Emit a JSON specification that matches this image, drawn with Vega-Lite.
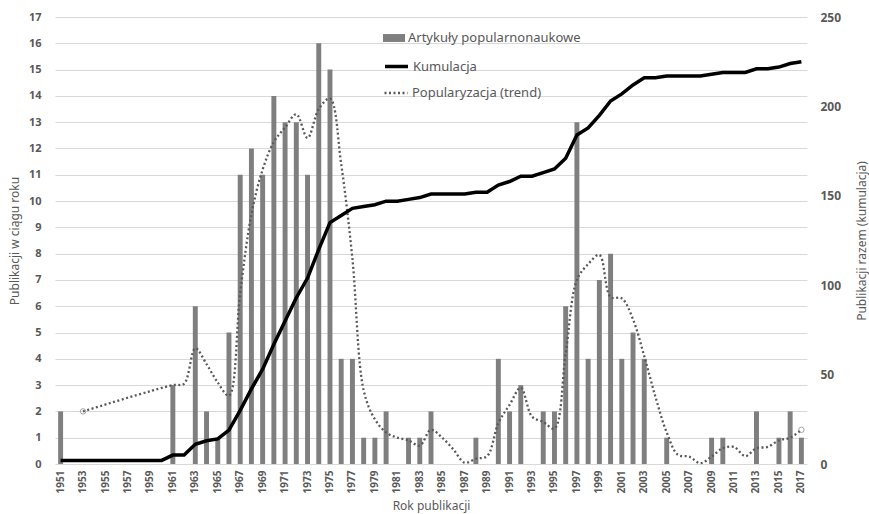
{
  "$schema": "https://vega.github.io/schema/vega-lite/v6.json",
  "width": 752,
  "height": 447,
  "autosize": {"type": "none"},
  "padding": {"left": 55, "top": 17, "right": 62, "bottom": 50},
  "background": "white",
  "config": {
    "view": {"stroke": null},
    "font": "Noto Sans",
    "axis": {"labelColor": "#595959", "titleColor": "#595959", "titleFontWeight": "normal", "domain": false, "ticks": false}
  },
  "data": {"values": [
    {"year": 1951, "count": 2, "cum": 2, "trend": null},
    {"year": 1952, "count": 0, "cum": 2, "trend": null},
    {"year": 1953, "count": 0, "cum": 2, "trend": 2.0},
    {"year": 1954, "count": 0, "cum": 2, "trend": null},
    {"year": 1955, "count": 0, "cum": 2, "trend": null},
    {"year": 1956, "count": 0, "cum": 2, "trend": null},
    {"year": 1957, "count": 0, "cum": 2, "trend": null},
    {"year": 1958, "count": 0, "cum": 2, "trend": null},
    {"year": 1959, "count": 0, "cum": 2, "trend": null},
    {"year": 1960, "count": 0, "cum": 2, "trend": null},
    {"year": 1961, "count": 3, "cum": 5, "trend": 3.0},
    {"year": 1962, "count": 0, "cum": 5, "trend": 3.05},
    {"year": 1963, "count": 6, "cum": 11, "trend": 4.4},
    {"year": 1964, "count": 2, "cum": 13, "trend": 3.8},
    {"year": 1965, "count": 1, "cum": 14, "trend": 3.1},
    {"year": 1966, "count": 5, "cum": 19, "trend": 2.6},
    {"year": 1967, "count": 11, "cum": 30, "trend": 6.5},
    {"year": 1968, "count": 12, "cum": 42, "trend": 9.5},
    {"year": 1969, "count": 11, "cum": 53, "trend": 11.2},
    {"year": 1970, "count": 14, "cum": 67, "trend": 12.25},
    {"year": 1971, "count": 13, "cum": 80, "trend": 12.8},
    {"year": 1972, "count": 13, "cum": 93, "trend": 13.3},
    {"year": 1973, "count": 11, "cum": 104, "trend": 12.4},
    {"year": 1974, "count": 16, "cum": 120, "trend": 13.5},
    {"year": 1975, "count": 15, "cum": 135, "trend": 13.9},
    {"year": 1976, "count": 4, "cum": 139, "trend": 11.4},
    {"year": 1977, "count": 4, "cum": 143, "trend": 7.8},
    {"year": 1978, "count": 1, "cum": 144, "trend": 2.8},
    {"year": 1979, "count": 1, "cum": 145, "trend": 1.7},
    {"year": 1980, "count": 2, "cum": 147, "trend": 1.2},
    {"year": 1981, "count": 0, "cum": 147, "trend": 1.0},
    {"year": 1982, "count": 1, "cum": 148, "trend": 0.9},
    {"year": 1983, "count": 1, "cum": 149, "trend": 0.7},
    {"year": 1984, "count": 2, "cum": 151, "trend": 1.3},
    {"year": 1985, "count": 0, "cum": 151, "trend": 1.0},
    {"year": 1986, "count": 0, "cum": 151, "trend": 0.55},
    {"year": 1987, "count": 0, "cum": 151, "trend": 0.05},
    {"year": 1988, "count": 1, "cum": 152, "trend": 0.2},
    {"year": 1989, "count": 0, "cum": 152, "trend": 0.3},
    {"year": 1990, "count": 4, "cum": 156, "trend": 1.55},
    {"year": 1991, "count": 2, "cum": 158, "trend": 2.25},
    {"year": 1992, "count": 3, "cum": 161, "trend": 2.9},
    {"year": 1993, "count": 0, "cum": 161, "trend": 1.8},
    {"year": 1994, "count": 2, "cum": 163, "trend": 1.6},
    {"year": 1995, "count": 2, "cum": 165, "trend": 1.35},
    {"year": 1996, "count": 6, "cum": 171, "trend": 4.2},
    {"year": 1997, "count": 13, "cum": 184, "trend": 7.0},
    {"year": 1998, "count": 4, "cum": 188, "trend": 7.6},
    {"year": 1999, "count": 7, "cum": 195, "trend": 7.95},
    {"year": 2000, "count": 8, "cum": 203, "trend": 6.35},
    {"year": 2001, "count": 4, "cum": 207, "trend": 6.3},
    {"year": 2002, "count": 5, "cum": 212, "trend": 5.5},
    {"year": 2003, "count": 4, "cum": 216, "trend": 4.1},
    {"year": 2004, "count": 0, "cum": 216, "trend": 2.55},
    {"year": 2005, "count": 1, "cum": 217, "trend": 1.2},
    {"year": 2006, "count": 0, "cum": 217, "trend": 0.35},
    {"year": 2007, "count": 0, "cum": 217, "trend": 0.28},
    {"year": 2008, "count": 0, "cum": 217, "trend": 0.03},
    {"year": 2009, "count": 1, "cum": 218, "trend": 0.28},
    {"year": 2010, "count": 1, "cum": 219, "trend": 0.6},
    {"year": 2011, "count": 0, "cum": 219, "trend": 0.65},
    {"year": 2012, "count": 0, "cum": 219, "trend": 0.3},
    {"year": 2013, "count": 2, "cum": 221, "trend": 0.6},
    {"year": 2014, "count": 0, "cum": 221, "trend": 0.65},
    {"year": 2015, "count": 1, "cum": 222, "trend": 0.9},
    {"year": 2016, "count": 2, "cum": 224, "trend": 1.0},
    {"year": 2017, "count": 1, "cum": 225, "trend": 1.3}
  ]},
  "encoding": {
    "x": {
      "field": "year", "type": "ordinal",
      "scale": {"paddingInner": 0.56, "paddingOuter": 0.28},
      "axis": {
        "title": "Rok publikacji", "titleFontSize": 12, "titlePadding": 8,
        "labelAngle": -90, "labelFontSize": 10, "labelFontWeight": "bold", "labelPadding": 6,
        "labelOverlap": false,
        "labelExpr": "datum.value % 2 == 1 ? datum.label : ''"
      }
    }
  },
  "layer": [
    {
      "layer": [
        {
          "mark": {"type": "bar"},
          "encoding": {
            "y": {
              "field": "count", "type": "quantitative",
              "scale": {"domain": [0, 17], "nice": false, "zero": true},
              "axis": {
                "title": "Publikacji w ciągu roku", "titleFontSize": 12, "titlePadding": 7,
                "values": [0,1,2,3,4,5,6,7,8,9,10,11,12,13,14,15,16,17],
                "labelFontSize": 11, "labelFontWeight": "bold", "labelPadding": 14, "labelOverlap": false,
                "grid": true, "gridColor": "#d9d9d9"
              }
            },
            "fill": {
              "datum": "Artykuły popularnonaukowe",
              "scale": {"range": ["#7f7f7f"]},
              "legend": {
                "orient": "none", "legendX": 328, "legendY": 10, "title": null, "padding": 0,
                "symbolType": "M-1,-0.36H1V0.36H-1Z", "symbolSize": 484, "symbolStrokeWidth": 0,
                "labelFontSize": 13, "labelColor": "#595959", "labelOffset": 3, "labelLimit": 400
              }
            }
          }
        },
        {
          "transform": [{"filter": "datum.trend != null"}],
          "mark": {"type": "line", "color": "#595959", "strokeWidth": 2.3, "interpolate": "catmull-rom"},
          "encoding": {
            "y": {
              "field": "trend", "type": "quantitative",
              "scale": {"domain": [0, 17], "nice": false, "zero": true},
              "axis": {
                "title": "Publikacji w ciągu roku", "titleFontSize": 12, "titlePadding": 7,
                "values": [0,1,2,3,4,5,6,7,8,9,10,11,12,13,14,15,16,17],
                "labelFontSize": 11, "labelFontWeight": "bold", "labelPadding": 14, "labelOverlap": false,
                "grid": true, "gridColor": "#d9d9d9"
              }
            },
            "strokeDash": {
              "datum": "Popularyzacja (trend)",
              "scale": {"range": [[2, 2.5]]},
              "legend": {
                "orient": "none", "legendX": 328, "legendY": 63, "title": null, "padding": 0,
                "symbolType": "stroke", "symbolSize": 529, "symbolStrokeWidth": 2.3,
                "symbolStrokeColor": "#595959", "symbolDash": [2, 2.5],
                "labelFontSize": 13, "labelColor": "#595959", "labelOffset": 3, "labelLimit": 400
              }
            }
          }
        },
        {
          "transform": [{"filter": "datum.year == 1953 || datum.year == 2017"}],
          "mark": {"type": "point", "shape": "circle", "filled": false, "color": "#7f7f7f", "size": 30, "strokeWidth": 1},
          "encoding": {
            "y": {
              "field": "trend", "type": "quantitative",
              "scale": {"domain": [0, 17], "nice": false, "zero": true},
              "axis": {
                "title": "Publikacji w ciągu roku", "titleFontSize": 12, "titlePadding": 7,
                "values": [0,1,2,3,4,5,6,7,8,9,10,11,12,13,14,15,16,17],
                "labelFontSize": 11, "labelFontWeight": "bold", "labelPadding": 14, "labelOverlap": false,
                "grid": true, "gridColor": "#d9d9d9"
              }
            }
          }
        }
      ]
    },
    {
      "mark": {"type": "line", "strokeWidth": 3.5},
      "encoding": {
        "y": {
          "field": "cum", "type": "quantitative",
          "scale": {"domain": [0, 250], "nice": false},
          "axis": {
            "orient": "right", "title": "Publikacji razem (kumulacja)", "titleFontSize": 12,
            "titleAngle": -90, "titlePadding": 28,
            "values": [0, 50, 100, 150, 200, 250],
            "labelFontSize": 12, "labelFontWeight": "bold", "labelPadding": 13, "grid": false
          }
        },
        "stroke": {
          "datum": "Kumulacja",
          "scale": {"range": ["black"]},
          "legend": {
            "orient": "none", "legendX": 328, "legendY": 36, "title": null, "padding": 0,
            "symbolType": "stroke", "symbolSize": 529, "symbolStrokeWidth": 3.5,
            "symbolStrokeColor": "black",
            "labelFontSize": 13, "labelColor": "#595959", "labelOffset": 3, "labelLimit": 400
          }
        }
      }
    }
  ],
  "resolve": {"scale": {"y": "independent"}}
}
